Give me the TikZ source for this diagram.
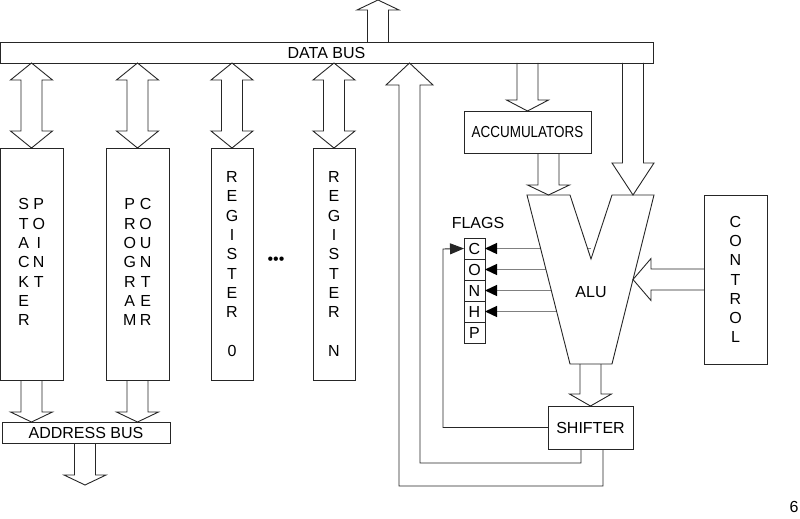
\documentclass[tikz,border=0pt]{standalone}
\usepackage{fontspec}
\setmainfont{Liberation Sans}
\usetikzlibrary{positioning,calc,arrows.meta}
% hollow block arrows: tail, tip, head length
\newcommand{\fatdown}[3]{\draw[blk] let \p1=(#1), \p2=(#2) in (\x1-10.5pt,\y1) -- (\x1-10.5pt,\y2+#3) -- (\x1-21pt,\y2+#3) -- (\x1,\y2) -- (\x1+21pt,\y2+#3) -- (\x1+10.5pt,\y2+#3) -- (\x1+10.5pt,\y1);}
\newcommand{\fatup}[3]{\draw[blk] let \p1=(#1), \p2=(#2) in (\x1-10.5pt,\y1) -- (\x1-10.5pt,\y2-#3) -- (\x1-21pt,\y2-#3) -- (\x1,\y2) -- (\x1+21pt,\y2-#3) -- (\x1+10.5pt,\y2-#3) -- (\x1+10.5pt,\y1);}
\newcommand{\fatleft}[3]{\draw[blk] let \p1=(#1), \p2=(#2) in (\x1,\y1+10.5pt) -- (\x2+#3,\y1+10.5pt) -- (\x2+#3,\y1+21pt) -- (\x2,\y1) -- (\x2+#3,\y1-21pt) -- (\x2+#3,\y1-10.5pt) -- (\x1,\y1-10.5pt);}
\newcommand{\fatboth}[3]{\draw[blk] let \p1=(#1), \p2=(#2) in (\x1,\y1) -- (\x1+21pt,\y1-#3) -- (\x1+10.5pt,\y1-#3) -- (\x1+10.5pt,\y2+#3) -- (\x1+21pt,\y2+#3) -- (\x1,\y2) -- (\x1-21pt,\y2+#3) -- (\x1-10.5pt,\y2+#3) -- (\x1-10.5pt,\y1-#3) -- (\x1-21pt,\y1-#3) -- cycle;}
\tikzset{
  every node/.style={font=\fontsize{16}{19.3}\selectfont},
  blk/.style={draw=black!85, line width=0.9pt},
  unitbox/.style={blk, inner sep=0pt, outer sep=0pt, align=center},
  flagbox/.style={unitbox, minimum width=21pt, minimum height=21pt},
  flagarrow/.style={-{Triangle[length=12pt,width=11pt,color=black]}, draw=black!50, line width=1.3pt},
  fbline/.style={-{Triangle[length=14pt,width=11pt]}, draw=black!85, line width=0.9pt}
}

\begin{document}
\begin{tikzpicture}[x=1pt, y=-1pt]
\useasboundingbox (0,0) rectangle (800,519);
% buses
\node[unitbox, minimum width=653pt, minimum height=21pt] (dbus) at (326.5,52.5) {DATA BUS};
\node[unitbox, minimum width=168pt, minimum height=21pt] (abus) at (86,432.5) {ADDRESS BUS};
\coordinate (out) at (378,0);
\coordinate (aout) at (85,485);
% register file
\node[unitbox, minimum width=63pt, minimum height=232pt] (stack) at (31.5,264)
  {\begin{tabular}{@{}c@{\hspace{3pt}}c@{}}S&P\\T&O\\A&I\\C&N\\K&T\\E&\\R&\end{tabular}};
\node[unitbox, minimum width=63pt, minimum height=232pt] (pc) at (137.5,264)
  {\begin{tabular}{@{}c@{\hspace{3pt}}c@{}}P&C\\R&O\\O&U\\G&N\\R&T\\A&E\\M&R\end{tabular}};
\node[unitbox, minimum width=42pt, minimum height=232pt] (reg0) at (232,264)
  {R\\E\\G\\I\\S\\T\\E\\R\\\mbox{}\\0};
\node[unitbox, minimum width=42pt, minimum height=232pt] (regn) at (334,264)
  {R\\E\\G\\I\\S\\T\\E\\R\\\mbox{}\\N};
\node[inner sep=0pt] (dots) at (276,261) {\textbullet\textbullet\textbullet};
% ALU side
\node[unitbox, minimum width=127pt, minimum height=42pt] (acc) at (527.5,132) {\scalebox{0.84}[1]{ACCUMULATORS}};
\node[unitbox, minimum width=63pt, minimum height=169pt] (ctrl) at (735.5,279.5) {C\\O\\N\\T\\R\\O\\L};
\node[unitbox, minimum width=85pt, minimum height=43pt] (shifter) at (590.5,427.5) {SHIFTER};
\node[inner sep=0pt] (flags) at (478,223) {FLAGS};
\node[flagbox] (flagC) at (474.5,248.5) {C};
\node[flagbox, below=0pt of flagC] (flagO) {O};
\node[flagbox, below=0pt of flagO] (flagN) {N};
\node[flagbox, below=0pt of flagN] (flagH) {H};
\node[flagbox, below=0pt of flagH] (flagP) {P};
\coordinate (alucore) at (591,292);
\coordinate (aluL) at (548.5,195);
\coordinate (aluR) at (633,195);
\coordinate (aluE) at (633,279.5);
\coordinate (aluB) at (591,364);
\foreach \f in {C,O,N,H}
  \draw[flagarrow] (flag\f.east -| alucore) -- (flag\f.east);
\draw[blk, fill=white] (527,195) -- (570,195) -- (591,259) -- (612,195) -- (654,195) -- (612,364) -- (570,364) -- cycle;
\node (alu) at (alucore) {ALU};
% block arrows
\fatup{out |- dbus.north}{out}{10pt}
\foreach \r in {stack,pc,reg0,regn}
  \fatboth{\r.north |- dbus.south}{\r.north}{17pt};
\fatdown{stack.south}{stack.south |- abus.north}{10pt}
\fatdown{pc.south}{pc.south |- abus.north}{10pt}
\fatdown{aout |- abus.south}{aout}{10pt}
\fatdown{acc.north |- dbus.south}{acc.north}{11pt}
\fatdown{aluL |- acc.south}{aluL}{10pt}
\fatdown{aluR |- dbus.south}{aluR}{32pt}
\fatleft{ctrl.west}{aluE}{18pt}
\fatdown{shifter.north |- aluB}{shifter.north}{12pt}
% shifter back to data bus
\draw[blk] ([xshift=-9.5pt]shifter.south) |- (420,463) -- (420,85) -- (433,85) -- (409.5,63)
  -- (386,85) -- (399,85) -- (399,486) -| ([xshift=12.5pt]shifter.south);
% shifter back to carry flag
\draw[fbline] (shifter.west) -| (443,249) -- (flagC.west);
\node (pagenum) at (794,507) {6};
\end{tikzpicture}
\end{document}
